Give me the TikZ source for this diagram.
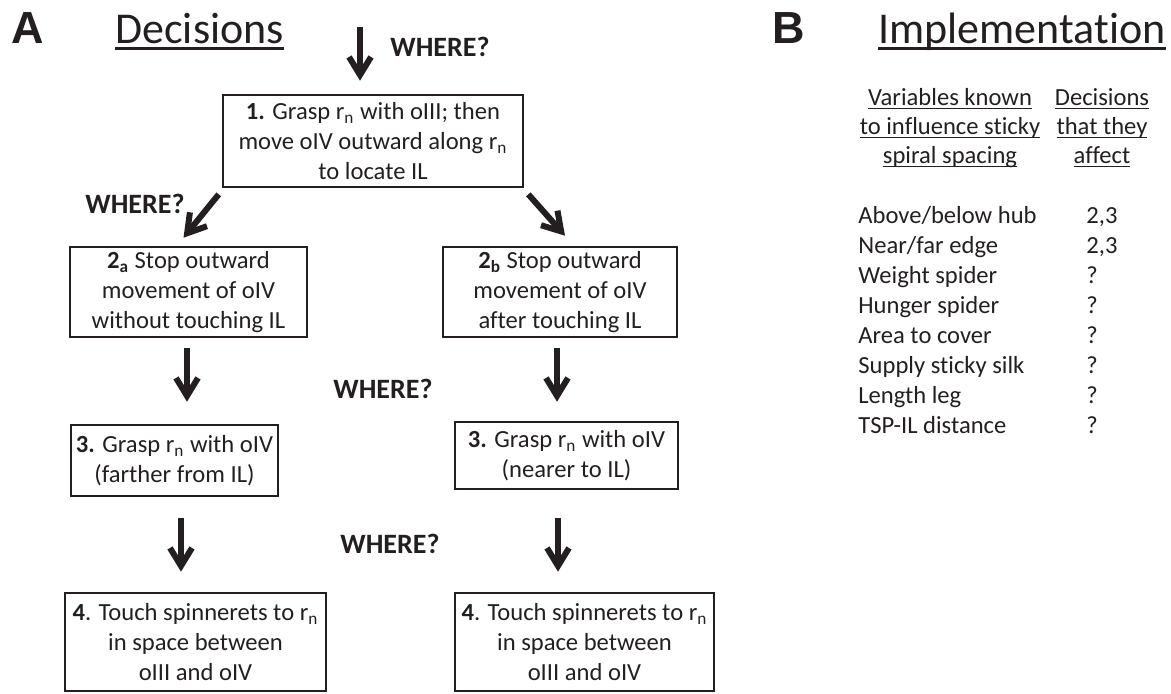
\documentclass[tikz,border=0pt]{standalone}
\usepackage{fontspec}
\setmainfont[Ligatures=NoCommon]{Carlito}
\newfontfamily\panelfont{Liberation Sans}
\usetikzlibrary{arrows.meta}

\definecolor{ink}{RGB}{35,31,32}
\newsavebox\ulbox
\newcommand{\ulined}[1]{\sbox\ulbox{#1}\rlap{\rule[-0.15em]{\wd\ulbox}{0.055em}}\usebox\ulbox}
\newcommand{\rn}{r\textsubscript{n}}

\tikzset{
  box/.style={draw=ink, line width=1.3pt, align=center, inner sep=0pt,
    font=\fontsize{12.3}{14.8}\selectfont},
  boxsize/.style 2 args={minimum width=#1, minimum height=#2},
  bigarrow/.style={draw=ink, line width=3pt, -{Straight Barb[length=9pt,width=11pt]}},
  where/.style={anchor=base west, inner sep=0pt, font=\fontsize{14}{16}\selectfont\bfseries},
  panel/.style={anchor=base west, inner sep=0pt, font=\panelfont\bfseries\fontsize{22.5}{26}\selectfont},
  heading/.style={anchor=base west, inner sep=0pt, font=\fontsize{22}{26}\selectfont},
  listtext/.style={anchor=base west, inner sep=0pt, font=\fontsize{12.3}{14.5}\selectfont},
}

\begin{document}
\begin{tikzpicture}[x=0.5pt,y=-0.5pt,text=ink]
\useasboundingbox (0,0) rectangle (1171,693);

% panel A
\node[panel] (pa) at (11,43) {A};
\node[heading] (hdec) at (115,43) {\ulined{Decisions}};

\node[box,boxsize={150pt}{46pt}] (b1) at (373,141)
  {\textbf{1.} Grasp \rn{} with oIII; then\\ move oIV outward along \rn\\ to locate IL};
\node[box,boxsize={118.5pt}{45pt}] (b2a) at (188.5,292)
  {\textbf{2\textsubscript{a}} Stop outward\\ movement of oIV\\ without touching IL};
\node[box,boxsize={117pt}{45pt}] (b2b) at (560,292)
  {\textbf{2\textsubscript{b}} Stop outward\\ movement of oIV\\ after touching IL};
\node[box,boxsize={103.5pt}{35.5pt}] (b3a) at (174.5,460.5)
  {\textbf{3.} Grasp \rn{} with oIV\\ (farther from IL)};
\node[box,boxsize={111.5pt}{33.5pt}] (b3b) at (566.5,455.5)
  {\textbf{3.} Grasp \rn{} with oIV\\ (nearer to IL)};
\node[box,boxsize={130.5pt}{49pt}] (b4a) at (195.5,642)
  {\textbf{4}. Touch spinnerets to \rn\\ in space between\\ oIII and oIV};
\node[box,boxsize={129.5pt}{49pt}] (b4b) at (584.5,642)
  {\textbf{4}. Touch spinnerets to \rn\\ in space between\\ oIII and oIV};

\node[where] (w1) at (390,56) {WHERE?};
\node[where] (w2) at (85,213) {WHERE?};
\node[where] (w3) at (333,398) {WHERE?};
\node[where] (w4) at (340,553) {WHERE?};

\coordinate (in1) at (360,27);
\coordinate (t3a) at ([xshift=3.25pt]b3a.south);
\coordinate (t3b) at ([xshift=-4.25pt]b3b.south);
\draw[bigarrow, shorten >=6.5pt] (in1) -- (in1 |- b1.north);
\draw[bigarrow] ([shift={(-3,6)}]b1.south west) -- ([shift={(-5,-8)}]b2a.north);
\draw[bigarrow] ([shift={(4,6)}]b1.south east) -- ([shift={(5,-10)}]b2b.north);
\draw[bigarrow, shorten <=5pt, shorten >=11pt] ([xshift=-0.75pt]b2a.south) -- ([xshift=-0.75pt]b2a.south |- b3a.north);
\draw[bigarrow, shorten <=5pt, shorten >=9.5pt] ([xshift=-1.5pt]b2b.south) -- ([xshift=-1.5pt]b2b.south |- b3b.north);
\draw[bigarrow, shorten <=10.5pt, shorten >=10pt] (t3a) -- (t3a |- b4a.north);
\draw[bigarrow, shorten <=14pt, shorten >=10pt] (t3b) -- (t3b |- b4b.north);

% panel B
\node[panel] (pb) at (772,43) {B};
\node[heading] (himp) at (878,43) {\ulined{Implementation}};

\node[align=center, font=\fontsize{12.3}{14.5}\selectfont] (colvar) at (950,128)
  {\ulined{Variables known}\\ \ulined{to influence sticky}\\ \ulined{spiral spacing}};
\node[align=center, font=\fontsize{12.3}{14.5}\selectfont] (coldec) at (1102,128)
  {\ulined{Decisions}\\ \ulined{that they}\\ \ulined{affect}};

\foreach \var/\dec [count=\i] in {{Above/below hub}/{2,3}, {Near/far edge}/{2,3},
    {Weight spider}/?, {Hunger spider}/?, {Area to cover}/?,
    {Supply sticky silk}/?, {Length leg}/?, {TSP-IL distance}/?}
{
  \node[listtext] (var\i) at (858,{193+30*\i}) {\var};
  \node[listtext] (dec\i) at (1086,{193+30*\i}) {\dec};
}
\end{tikzpicture}
\end{document}
